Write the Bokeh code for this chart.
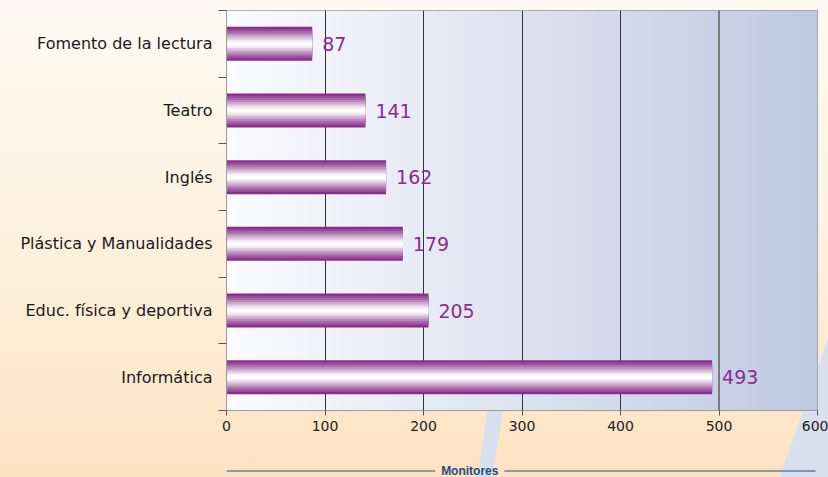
import numpy as np
from bokeh.plotting import figure
from bokeh.layouts import column
from bokeh.models import (Range1d, FixedTicker, Span, ColumnDataSource)
from bokeh.core.properties import value
from bokeh.embed import file_html
from bokeh.resources import INLINE

categories = ["Fomento de la lectura", "Teatro", "Inglés", "Plástica y Manualidades",
              "Educ. física y deportiva", "Informática"]
values = [87, 141, 162, 179, 205, 493]
x_ticks = [0, 100, 200, 300, 400, 500, 600]
axis_title = "Monitores"

FONT = "DejaVu Sans"
PURPLE = "#8e2a8e"
NAVY = "#1f4e7a"

n = len(categories)
centers = [i + 0.5 for i in range(n)]

p = figure(width=828, height=459, output_backend="svg", toolbar_location=None,
           x_range=Range1d(0, 600), y_range=Range1d(n, 0),
           min_border_left=226, min_border_right=11, min_border_top=10, min_border_bottom=49)
p.border_fill_alpha = 0
p.background_fill_color = "#e0e5f1"
p.outline_line_color = "#9a9a9a"

# frame gradient (white -> light blue)
N = 300
t = np.linspace(0, 1, N)
c0 = np.array([251, 252, 254]); c1 = np.array([191, 201, 226])
cols = (c0[None, :] * (1 - t[:, None]) + c1[None, :] * t[:, None]).astype(np.uint32)
img = np.zeros((1, N), dtype=np.uint32)
view = img.view(dtype=np.uint8).reshape((1, N, 4))
view[0, :, 0] = cols[:, 0]; view[0, :, 1] = cols[:, 1]; view[0, :, 2] = cols[:, 2]; view[0, :, 3] = 255
img_r = p.image_rgba(image=[img], x=0, y=0, dw=600, dh=n)
img_r.level = "image"

# grid
p.xgrid.ticker = FixedTicker(ticks=[100, 200, 300, 400])
p.xgrid.grid_line_color = "#333333"
p.xgrid.grid_line_width = 1
p.ygrid.grid_line_color = None
p.add_layout(Span(location=500, dimension="height", line_color="#7a7a7a", line_width=2, level="underlay"))

# striped bars (concentric layers)
src = ColumnDataSource(dict(y=centers, right=values, label=[str(v) for v in values]))
layer_colors = ["#8e2a8e", "#9a4a9b", "#a866a9", "#b888b9", "#cba8cc", "#dfc9e0", "#f1e7f1", "#ffffff"]
H = 0.51
for k, c in enumerate(layer_colors):
    h = H - k * 0.064
    p.hbar(y="y", left=0, right="right", height=h, source=src, color=c, line_color=None)

p.text(x="right", y="y", text="label", source=src, x_offset=10, text_baseline="middle",
       text_color=PURPLE, text_font=value(FONT), text_font_size="19px")

# axes
xa = p.xaxis[0]
xa.ticker = FixedTicker(ticks=x_ticks)
xa.axis_line_color = "#9a9a9a"
xa.major_tick_line_color = "#555555"
xa.major_tick_out = 5
xa.major_tick_in = 0
xa.minor_tick_line_color = None
xa.major_label_text_font = FONT
xa.major_label_text_font_size = "14px"
xa.major_label_text_color = "#222222"
xa.major_label_standoff = 5

ya = p.yaxis[0]
ya.ticker = FixedTicker(ticks=centers, minor_ticks=list(range(n + 1)))
ya.major_label_overrides = {c: lab for c, lab in zip(centers, categories)}
ya.major_tick_line_color = None
ya.major_tick_out = 0
ya.minor_tick_line_color = "#555555"
ya.minor_tick_out = 8
ya.minor_tick_in = 0
ya.axis_line_color = "#9a9a9a"
ya.major_label_text_font = FONT
ya.major_label_text_font_size = "16px"
ya.major_label_text_color = "#1a1a1a"
ya.major_label_standoff = 6

# axis title strip: "Monitores" between two rules
p2 = figure(width=828, height=18, output_backend="svg", toolbar_location=None,
            x_range=p.x_range, y_range=Range1d(0, 1),
            min_border_left=226, min_border_right=11, min_border_top=0, min_border_bottom=0)
p2.axis.visible = False
p2.grid.grid_line_color = None
p2.outline_line_color = None
p2.background_fill_alpha = 0
p2.border_fill_alpha = 0
title_src = ColumnDataSource(dict(x=[247], y=[0.36], t=[axis_title]))
rule_src = ColumnDataSource(dict(x0=[0, 282], x1=[212, 598], y0=[0.36, 0.36], y1=[0.36, 0.36]))
p2.segment(x0="x0", y0="y0", x1="x1", y1="y1", source=rule_src, line_color=NAVY, line_width=1)
p2.text(x="x", y="y", text="t", source=title_src, text_align="center", text_baseline="middle",
        text_font=value("Liberation Sans"), text_font_style="bold", text_font_size="12px",
        text_color=NAVY)

layout = column(p, p2, spacing=0)
layout.styles = {
    "background-image": (
        "linear-gradient(99deg, rgba(0,0,0,0) 487px, #d8dfee 487px, #d8dfee 502px, rgba(0,0,0,0) 502px), "
        "linear-gradient(109deg, rgba(0,0,0,0) 893px, #d8dfee 893px), "
        "linear-gradient(to bottom, #fefaf3 0%, #fdf0dc 55%, #fde2c1 100%)"),
    "background-size": "100% 100px, 100% 100%, 100% 100%",
    "background-position": "left bottom, left top, left top",
    "background-repeat": "no-repeat, no-repeat, no-repeat",
}

open("out.html", "w").write(file_html(layout, INLINE))
